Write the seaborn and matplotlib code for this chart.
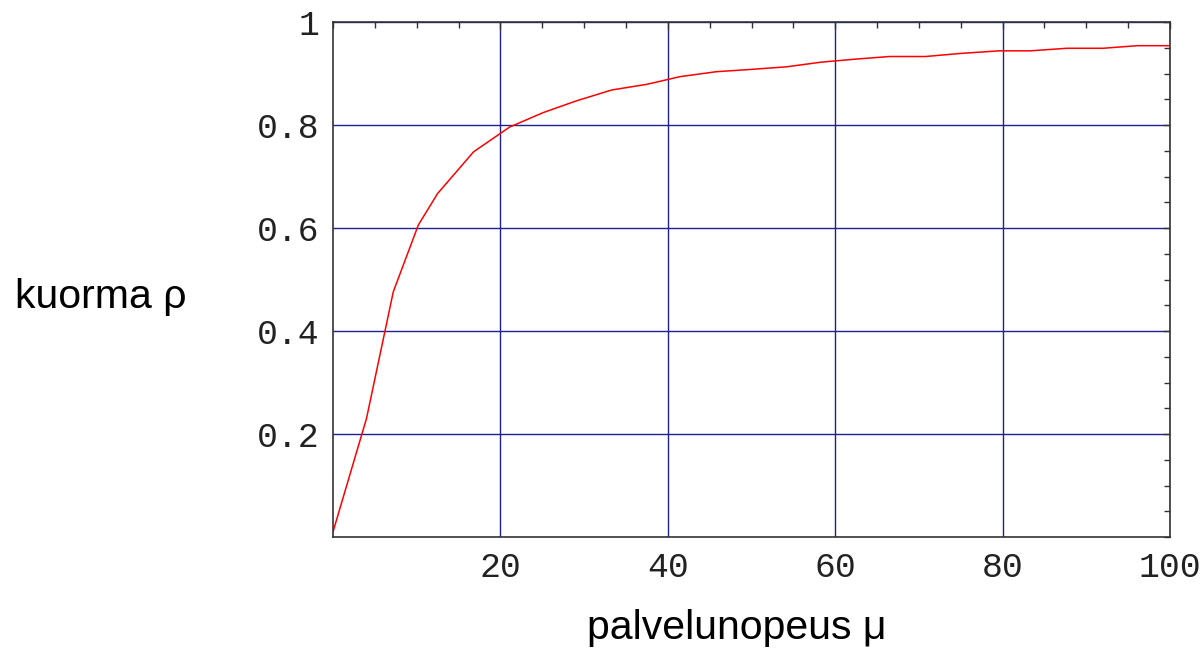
import matplotlib
matplotlib.use('Agg')
from matplotlib import pyplot as plt
from matplotlib.ticker import MultipleLocator, FixedLocator
import pandas as pd
import seaborn as sns

# palvelunopeus (mu) vs kuorma (rho)
mu = [0, 4.0, 7.2, 10.2, 12.5, 16.8, 21.1, 25.1, 29.1, 33.3, 37.5, 41.5, 45.8,
      50.0, 54.2, 58.3, 62.5, 66.5, 70.8, 75.0, 79.6, 83.3, 87.7, 92.0, 96.1, 100]
rho = [0.01, 0.23, 0.476, 0.606, 0.667, 0.748, 0.796, 0.824, 0.847, 0.868, 0.879,
       0.894, 0.9035, 0.908, 0.913, 0.922, 0.928, 0.933, 0.933, 0.939, 0.944,
       0.944, 0.949, 0.949, 0.954, 0.954]

x_ticks = [20, 40, 60, 80, 100]
x_tick_labels = ['20', '40', '60', '80', '100']
y_ticks = [0.2, 0.4, 0.6, 0.8, 1.0]
y_tick_labels = ['0.2', '0.4', '0.6', '0.8', '1']

GRID = '#1f1f8f'
FRAME = '#333333'


def main():
    sns.set_style('white')
    plt.rcParams['font.family'] = ['Liberation Sans', 'DejaVu Sans']

    df = pd.DataFrame({'mu': mu, 'rho': rho})

    fig = plt.figure(figsize=(12.04, 6.63), dpi=100)
    ax = fig.add_axes([333 / 1204, 1 - 537 / 663, 837 / 1204, 515 / 663])

    sns.lineplot(data=df, x='mu', y='rho', sort=False, color='red', linewidth=1.1, ax=ax)

    ax.set_xlim(0, 100)
    ax.set_ylim(0, 1)

    ax.xaxis.set_major_locator(FixedLocator(x_ticks))
    ax.yaxis.set_major_locator(FixedLocator(y_ticks))
    ax.xaxis.set_minor_locator(MultipleLocator(5))
    ax.yaxis.set_minor_locator(MultipleLocator(0.05))
    ax.set_xticklabels(x_tick_labels)
    ax.set_yticklabels(y_tick_labels)

    ax.grid(True, which='major', color=GRID, linewidth=1.0)
    ax.set_axisbelow(True)

    ax.tick_params(which='both', direction='in', top=True, right=True,
                   labeltop=False, labelright=False, color=FRAME, width=1)
    ax.tick_params(which='major', length=5, pad=10)
    ax.tick_params(which='minor', length=4)
    for lab in ax.get_xticklabels() + ax.get_yticklabels():
        lab.set_family(['Liberation Mono', 'DejaVu Sans Mono'])
        lab.set_fontsize(25)
        lab.set_color('#222222')

    for sp in ax.spines.values():
        sp.set_color(FRAME)
        sp.set_linewidth(1.2)
        sp.set_visible(True)

    ax.set_xlabel('palvelunopeus μ', fontsize=29.5, color='black')
    ax.xaxis.set_label_coords(0.4823, -0.177)
    ax.xaxis.label.set_va('center')
    ax.set_ylabel('kuorma ρ', fontsize=29.5, rotation=0, color='black', ha='left', va='center')
    ax.yaxis.set_label_coords(-0.38, 0.466)

    fig.savefig('out.png', dpi=100, facecolor='white')


if __name__ == '__main__':
    main()
